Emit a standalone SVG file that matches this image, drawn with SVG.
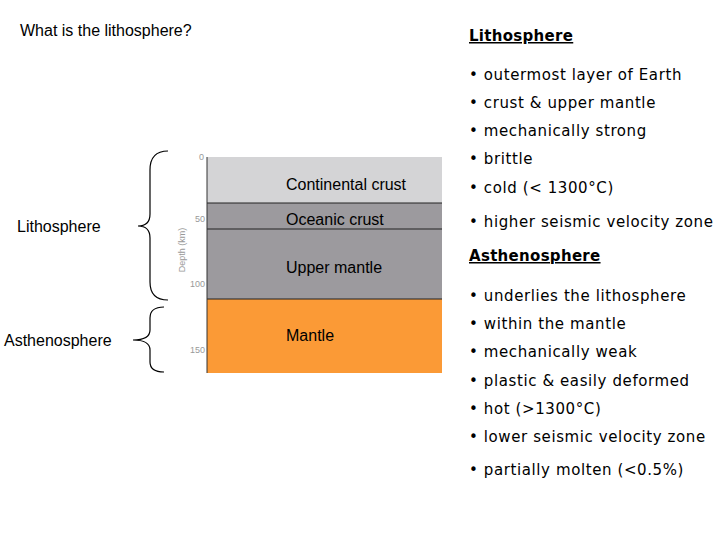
<svg xmlns="http://www.w3.org/2000/svg" width="720" height="540" viewBox="0 0 720 540">
<style>
.a{font-family:"Liberation Sans",Arial,sans-serif;font-size:16px;fill:#000}
.r{font-family:"DejaVu Sans",sans-serif;font-size:15px;fill:#000;letter-spacing:0.6px}
.h{font-family:"DejaVu Sans",sans-serif;font-size:15px;font-weight:bold;text-decoration:underline;letter-spacing:0.3px}
.t{font-family:"Liberation Sans",Arial,sans-serif;font-size:9px;fill:#999}
.b{fill:none;stroke:#000;stroke-width:1.2}
</style>
<rect width="720" height="540" fill="#fff"/>
<text class="a" x="20" y="36">What is the lithosphere?</text>
<g id="column">
<rect x="207" y="157" width="235" height="46" fill="#d4d4d6"/>
<rect x="207" y="203" width="235" height="96" fill="#9c9a9e"/>
<rect x="207" y="299" width="235" height="74" fill="#fb9a36"/>
<line x1="207" y1="203" x2="442" y2="203" stroke="#222"/>
<line x1="207" y1="229" x2="442" y2="229" stroke="#222"/>
<line x1="207" y1="299" x2="442" y2="299" stroke="#222"/>
<line x1="207" y1="157" x2="207" y2="373" stroke="#333"/>
<text class="a" x="286" y="190">Continental crust</text>
<text class="a" x="286" y="225">Oceanic crust</text>
<text class="a" x="286" y="273">Upper mantle</text>
<text class="a" x="286" y="341" fill="#3a1400">Mantle</text>
<text class="t" x="204" y="160" text-anchor="end">0</text>
<text class="t" x="205" y="222" text-anchor="end">50</text>
<text class="t" x="205" y="287" text-anchor="end">100</text>
<text class="t" x="205" y="353" text-anchor="end">150</text>
<text class="t" transform="translate(185,250) rotate(-90)" text-anchor="middle">Depth (km)</text>
</g>
<g id="lithosphere-brace">
<path class="b" d="M168,151 Q150,151 150,170 L150,214 Q150,226 138,226 Q150,226 150,238 L150,282 Q150,300 168,300"/>
<text class="a" x="17" y="232">Lithosphere</text>
</g>
<g id="asthenosphere-brace">
<path class="b" d="M164,307 Q150,307 150,318 L150,330 Q150,340 133,340 Q150,340 150,350 L150,362 Q150,372 164,372"/>
<text class="a" x="4" y="346">Asthenosphere</text>
</g>
<g id="lithosphere-list">
<text class="h" x="469" y="41">Lithosphere</text>
<text class="r" x="469" y="80">• outermost layer of Earth</text>
<text class="r" x="469" y="108">• crust &amp; upper mantle</text>
<text class="r" x="469" y="136">• mechanically strong</text>
<text class="r" x="469" y="164">• brittle</text>
<text class="r" x="469" y="193">• cold (&lt; 1300°C)</text>
<text class="r" x="469" y="227">• higher seismic velocity zone</text>
</g>
<g id="asthenosphere-list">
<text class="h" x="469" y="261">Asthenosphere</text>
<text class="r" x="469" y="301">• underlies the lithosphere</text>
<text class="r" x="469" y="329">• within the mantle</text>
<text class="r" x="469" y="357">• mechanically weak</text>
<text class="r" x="469" y="386">• plastic &amp; easily deformed</text>
<text class="r" x="469" y="414">• hot (&gt;1300°C)</text>
<text class="r" x="469" y="442">• lower seismic velocity zone</text>
<text class="r" x="469" y="475">• partially molten (&lt;0.5%)</text>
</g>
</svg>
